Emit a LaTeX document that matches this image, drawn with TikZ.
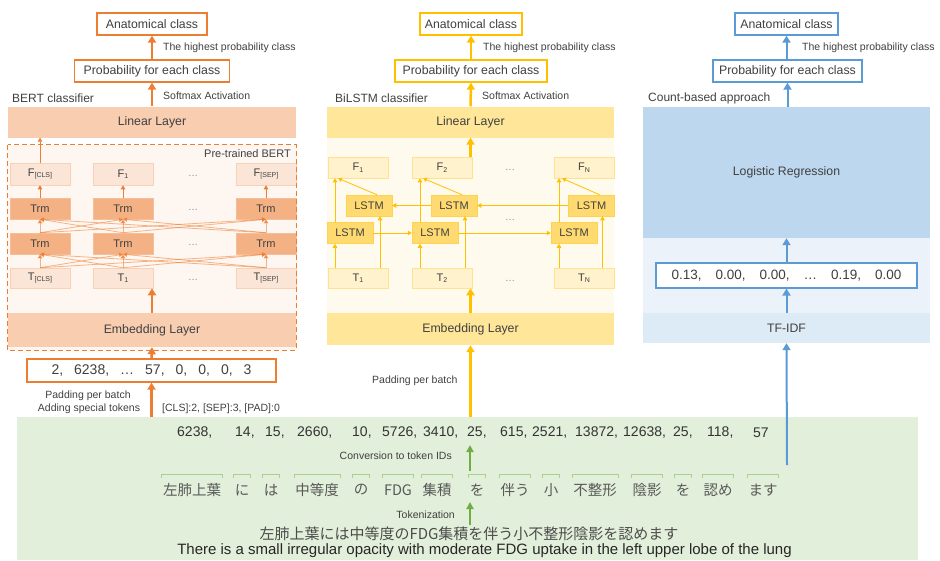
\documentclass[tikz,border=0pt]{standalone}
\usepackage{fontspec}
\setmainfont{Liberation Sans}
\newfontfamily\cjk{Noto Sans CJK JP}
\usetikzlibrary{arrows.meta}
\definecolor{bo}{HTML}{ED7D31}
\definecolor{bLin}{HTML}{F8CDB0}
\definecolor{bTrm}{HTML}{F4B183}
\definecolor{bLt}{HTML}{FBE5D6}
\definecolor{bBg}{HTML}{FEF6F0}
\definecolor{go}{HTML}{FFC000}
\definecolor{gLin}{HTML}{FFE699}
\definecolor{gLstm}{HTML}{FFDA70}
\definecolor{gLt}{HTML}{FFF2CC}
\definecolor{gBg}{HTML}{FFFAEE}
\definecolor{bl}{HTML}{5B9BD5}
\definecolor{cLog}{HTML}{BDD7EE}
\definecolor{cTf}{HTML}{DDEBF7}
\definecolor{cBg}{HTML}{EBF2FA}
\definecolor{grn}{HTML}{E2EFDA}
\definecolor{grnA}{HTML}{70AD47}
\definecolor{brkc}{HTML}{A9D18E}
\definecolor{txtc}{HTML}{404040}
\newcommand\sbs[1]{\raisebox{-1.5pt}{\fontsize{7}{8}\selectfont #1}}
\begin{document}
\begin{tikzpicture}[x=1pt,y=-1pt,
  topbox/.style={draw=#1, line width=1.3pt, fill=white, inner sep=0, minimum height=22, font=\fontsize{12.3}{14}\selectfont, text=txtc},
  lab/.style={inner sep=0, font=\fontsize{10.5}{12}\selectfont, text=txtc, anchor=west},
  ttl/.style={inner sep=0, font=\fontsize{12}{14}\selectfont, text=txtc, anchor=west},
  layer/.style={inner sep=0, font=\fontsize{12.3}{14}\selectfont, text=txtc},
  cell/.style={draw=#1, line width=0.5pt, inner sep=0, font=\fontsize{11}{13}\selectfont, text=txtc},
  dots/.style={inner sep=0, font=\fontsize{10}{12}\selectfont, text=black!45},
  bigarr/.style={draw=#1, line width=2.5pt, -{Triangle[length=7pt,width=8pt]}},
  smarr/.style={draw=#1, line width=0.8pt, -{Triangle[length=4pt,width=4.5pt]}},
  numbox/.style={draw=#1, line width=1.3pt, fill=white, inner sep=0, font=\fontsize{14}{16}\selectfont, text=txtc},
  idt/.style={inner sep=0, anchor=west, font=\fontsize{14}{16}\selectfont, text=black!80},
  tok/.style={inner sep=0, font=\cjk\fontsize{14.5}{16}\selectfont, text=black!65},
  brk/.style={draw=brkc, line width=0.8pt},
  garr/.style={draw=grnA, line width=2pt, -{Triangle[length=7pt,width=7pt]}}
]
\useasboundingbox (0,0) rectangle (940,560);

% ---------------- backgrounds ----------------
\node[fill=grn, minimum width=901, minimum height=143, inner sep=0] (green) at (467.5,488.5) {};
\node[fill=bBg, minimum width=288, minimum height=205, inner sep=0] (bpre) at (152,247.5) {};
\node[fill=gBg, minimum width=287, minimum height=176, inner sep=0] (lbg) at (470.5,225) {};
\node[fill=cBg, minimum width=287, minimum height=75, inner sep=0] (cbg) at (786.5,275.5) {};

% ---------------- BERT ----------------
\node[topbox=bo, minimum width=110] (ba) at (152,24) {Anatomical class};
\node[topbox=bo, minimum width=155] (bp) at (152,71) {Probability for each class};
\node[lab] (bl1) at (163,48) {The highest probability class};
\node[lab] (bl2) at (163,96) {Softmax Activation};
\node[ttl] (btt) at (12,98) {BERT classifier};
\node[layer, fill=bLin, minimum width=288, minimum height=31] (blin) at (152,122) {Linear Layer};
\node[inner sep=0, anchor=north east, font=\fontsize{11}{13}\selectfont, text=txtc] (bptl) at (291,149) {Pre-trained BERT};
\node[layer, fill=bLin, minimum width=288, minimum height=34] (bemb) at (152,330) {Embedding Layer};

\node[cell=bo!35, fill=bLt, minimum width=60, minimum height=22] (bF1) at (40,174) {F\sbs{[CLS]}};
\node[cell=bo!35, fill=bLt, minimum width=60, minimum height=22] (bF2) at (123,174) {F\sbs{1}};
\node[cell=bo!35, fill=bLt, minimum width=60, minimum height=22] (bF3) at (266,174) {F\sbs{[SEP]}};
\node[cell=bo!50, fill=bTrm, minimum width=60, minimum height=21] (bRa1) at (40,208.5) {Trm};
\node[cell=bo!50, fill=bTrm, minimum width=60, minimum height=21] (bRa2) at (123,208.5) {Trm};
\node[cell=bo!50, fill=bTrm, minimum width=60, minimum height=21] (bRa3) at (266,208.5) {Trm};
\node[cell=bo!50, fill=bTrm, minimum width=60, minimum height=21] (bRb1) at (40,243.5) {Trm};
\node[cell=bo!50, fill=bTrm, minimum width=60, minimum height=21] (bRb2) at (123,243.5) {Trm};
\node[cell=bo!50, fill=bTrm, minimum width=60, minimum height=21] (bRb3) at (266,243.5) {Trm};
\node[cell=bo!35, fill=bLt, minimum width=60, minimum height=20] (bT1) at (40,278) {T\sbs{[CLS]}};
\node[cell=bo!35, fill=bLt, minimum width=60, minimum height=20] (bT2) at (123,278) {T\sbs{1}};
\node[cell=bo!35, fill=bLt, minimum width=60, minimum height=20] (bT3) at (266,278) {T\sbs{[SEP]}};
\node[dots] (bd1) at (193,176) {\ldots};
\node[dots] (bd2) at (193,210) {\ldots};
\node[dots] (bd3) at (193,245) {\ldots};
\node[dots] (bd4) at (193,280) {\ldots};
\draw[bo, dashed, dash pattern=on 5pt off 3pt, line width=1pt] (bpre.north west) rectangle (bpre.south east);

\node[numbox=bo, minimum width=249, minimum height=23] (bnum) at (151.5,370.5)
  {2,\hspace{11pt}6238,\hspace{11pt}\ldots\hspace{11pt}57,\hspace{11pt}0,\hspace{11pt}0,\hspace{11pt}0,\hspace{11pt}3};
\node[inner sep=0, font=\fontsize{10.5}{12}\selectfont, text=txtc] (bpad) at (88,396) {Padding per batch};
\node[inner sep=0, font=\fontsize{10.5}{12}\selectfont, text=txtc] (badd) at (89,409) {Adding special tokens};
\node[lab] (bspc) at (162,409) {[CLS]:2, [SEP]:3, [PAD]:0};

\draw[bigarr=bo] (bp.north) -- (ba.south);
\draw[bigarr=bo] (blin.north) -- (bp.south);
\draw[smarr=bo] (bF1.north) -- (bF1.north |- blin.south);
\foreach \i in {1,2,3} {
  \draw[smarr=bo] (bRa\i.north) -- (bF\i.south);
  \foreach \j in {1,2,3} {
    \draw[smarr=bo, draw opacity=0.55, fill opacity=0.8] (bRb\i.north) -- (bRa\j.south);
    \draw[smarr=bo, draw opacity=0.55, fill opacity=0.8] (bT\i.north) -- (bRb\j.south);
  }
}
\draw[bigarr=bo] (bemb.north) -- (bemb.north |- bT2.south);
\draw[bigarr=bo] (bnum.north) -- (bemb.south);
\draw[bigarr=bo] (bnum.south |- green.north) -- (bnum.south);

% ---------------- BiLSTM ----------------
\node[topbox=go, minimum width=102] (la) at (471,24) {Anatomical class};
\node[topbox=go, minimum width=152] (lp) at (471,71) {Probability for each class};
\node[lab] (ll1) at (483,48) {The highest probability class};
\node[lab] (ll2) at (482,96) {Softmax Activation};
\node[ttl] (ltt) at (335,98) {BiLSTM classifier};
\node[layer, fill=gLin, minimum width=287, minimum height=31] (llin) at (470.5,122) {Linear Layer};
\node[layer, fill=gLin, minimum width=287, minimum height=32] (lemb) at (470.5,329) {Embedding Layer};

\node[cell=go!45, fill=gLt, minimum width=60, minimum height=21] (lF1) at (358,167.5) {F\sbs{1}};
\node[cell=go!45, fill=gLt, minimum width=60, minimum height=21] (lF2) at (442,167.5) {F\sbs{2}};
\node[cell=go!45, fill=gLt, minimum width=60, minimum height=21] (lF3) at (584,167.5) {F\sbs{N}};
\node[cell=go!70, fill=gLstm, minimum width=46, minimum height=21] (lb1) at (369,205.5) {LSTM};
\node[cell=go!70, fill=gLstm, minimum width=46, minimum height=21] (lb2) at (454,205.5) {LSTM};
\node[cell=go!70, fill=gLstm, minimum width=46, minimum height=21] (lb3) at (591.5,205.5) {LSTM};
\node[cell=go!70, fill=gLstm, minimum width=46, minimum height=21] (lw1) at (350,233) {LSTM};
\node[cell=go!70, fill=gLstm, minimum width=46, minimum height=21] (lw2) at (435,233) {LSTM};
\node[cell=go!70, fill=gLstm, minimum width=46, minimum height=21] (lw3) at (574,233) {LSTM};
\node[cell=go!45, fill=gLt, minimum width=60, minimum height=20] (lT1) at (358,278) {T\sbs{1}};
\node[cell=go!45, fill=gLt, minimum width=60, minimum height=20] (lT2) at (442,278) {T\sbs{2}};
\node[cell=go!45, fill=gLt, minimum width=60, minimum height=20] (lT3) at (584,278) {T\sbs{N}};
\node[dots] (ld1) at (510,170) {\ldots};
\node[dots] (ld2) at (510,220) {\ldots};
\node[dots] (ld3) at (510,281) {\ldots};
\node[inner sep=0, anchor=west, font=\fontsize{10.5}{12}\selectfont, text=txtc] (lpad) at (372,381) {Padding per batch};

\draw[bigarr=go] (lp.north) -- (la.south);
\draw[bigarr=go] (llin.north) -- (lp.south);
\foreach \i in {1,2,3} {
  \draw[smarr=go] ([xshift=-15pt]lw\i.south |- lT\i.north) -- ([xshift=-15pt]lw\i.south);
  \draw[smarr=go] ([xshift=11pt]lb\i.south |- lT\i.north) -- ([xshift=11pt]lb\i.south);
  \draw[smarr=go] ([xshift=-15pt]lw\i.north) -- ([xshift=-15pt]lw\i.north |- lF\i.south);
  \draw[smarr=go] ([xshift=8pt]lb\i.north) -- ([xshift=-12pt]lw\i.north |- lF\i.south);
}
\draw[smarr=go] (lw1.east) -- (lw2.west);
\draw[smarr=go] (lw2.east) -- (lw3.west);
\draw[smarr=go] (lb3.west) -- (lb2.east);
\draw[smarr=go] (lb2.west) -- (lb1.east);
\draw[bigarr=go] (llin.south |- lF2.north) -- (llin.south);
\draw[bigarr=go] (lemb.north) -- (lemb.north |- lT2.south);
\draw[bigarr=go] (lemb.south |- green.north) -- (lemb.south);

% ---------------- Count-based ----------------
\node[topbox=bl, minimum width=103] (ca) at (786.5,24) {Anatomical class};
\node[topbox=bl, minimum width=149] (cp) at (787.5,71) {Probability for each class};
\node[lab] (cl1) at (802,48) {The highest probability class};
\node[ttl] (ctt) at (648,98) {Count-based approach};
\node[layer, fill=cLog, minimum width=287, minimum height=131] (clog) at (786.5,172.5) {Logistic Regression};
\node[numbox=bl, line width=1.1pt, font=\fontsize{13.5}{16}\selectfont, minimum width=261, minimum height=25] (cnum) at (786.5,275.5)
  {0.13,\hspace{14pt}0.00,\hspace{14pt}0.00,\hspace{14pt}\ldots\hspace{14pt}0.19,\hspace{14pt}0.00};
\node[layer, fill=cTf, minimum width=287, minimum height=30] (ctf) at (786.5,328) {TF-IDF};
\coordinate (cstart) at (787,465);

\draw[bigarr=bl, line width=2pt] (cp.north -| ca.south) -- (ca.south);
\draw[bigarr=bl, line width=2pt] (clog.north -| cp.south) -- (cp.south);
\draw[bigarr=bl, line width=2pt] (cnum.north) -- (clog.south);
\draw[bigarr=bl, line width=2pt] (ctf.north) -- (cnum.south);
\draw[bigarr=bl, line width=2pt] (cstart) -- (ctf.south);

% ---------------- Green area ----------------
\foreach \x/\t [count=\k] in {177/{6238,},235/{14,},265/{15,},297/{2660,},352/{10,},382/{5726,},423/{3410,},467/{25,},500/{615,},532/{2521,},575/{13872,},623/{12638,},673/{25,},707/{118,},753/{57}}
  \node[idt] (id\k) at (\x,433) {\t};

\coordinate (bk) at (0,474);
\foreach \x/\t [count=\k] in {192/左肺上葉,242/に,271/は,317/中等度,361/の,398/FDG,437/集積,477/を,515/伴う,551/小,595/不整形,647/陰影,683/を,718/認め,763/ます} {
  \node[tok] (tk\k) at (\x,490) {\t};
  \draw[brk] ([xshift=-1pt]tk\k.west |- bk) ++(0,3.5) -- ++(0,-3.5) -- ([xshift=1pt]tk\k.east |- bk) -- ++(0,3.5);
}

\node[inner sep=0, anchor=east, font=\fontsize{10.5}{12}\selectfont, text=txtc] (gconv) at (452,456) {Conversion to token IDs};
\coordinate (ga1) at (470,471);
\coordinate (ga2) at (470,445);
\draw[garr] (ga1) -- (ga2);
\node[inner sep=0, anchor=east, font=\fontsize{10.5}{12}\selectfont, text=txtc] (gtok) at (455,515) {Tokenization};
\coordinate (gb1) at (470,525);
\coordinate (gb2) at (470,502);
\draw[garr] (gb1) -- (gb2);
\node[inner sep=0, font=\cjk\fontsize{15}{17}\selectfont, text=black!70] (jp) at (469,534) {左肺上葉には中等度のFDG集積を伴う小不整形陰影を認めます};
\node[inner sep=0, font=\fontsize{15}{17}\selectfont, text=black!85] (en) at (484.5,551) {There is a small irregular opacity with moderate FDG uptake in the left upper lobe of the lung};
\end{tikzpicture}
\end{document}
